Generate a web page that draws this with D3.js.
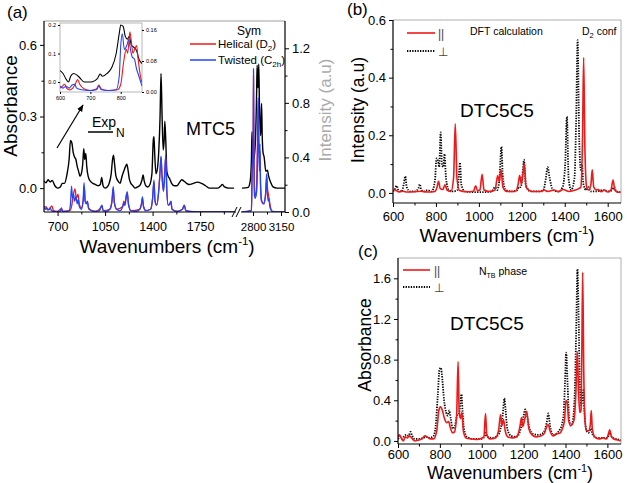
<!DOCTYPE html>
<html><head><meta charset="utf-8">
<script src="https://cdn.jsdelivr.net/npm/d3@7"></script>
<style>body{margin:0;background:#fff}svg{display:block}text{font-family:"Liberation Sans",Arial,sans-serif}</style>
</head><body><svg id="c" width="627" height="483"></svg>
<script>
// ---------- DATA ----------
// Panel (a) – experimental (left axis, absorbance), [wavenumber, value]
const aExpLow = [[600,0.03],[615,0.022],[630,0.035],[645,0.026],[660,0.032],[680,0.01],[700,0.0],[720,0.005],[735,0.02],[750,0.02],[770,0.06],[785,0.12],[795,0.2],[805,0.19],[815,0.15],[825,0.13],[835,0.12],[845,0.09],[855,0.07],[865,0.05],[875,0.06],[885,0.1],[893,0.165],[900,0.12],[908,0.145],[915,0.09],[925,0.05],[940,0.03],[960,0.02],[980,0.015],[1000,0.01],[1015,0.015],[1025,0.045],[1035,0.01],[1050,0.0],[1065,0.005],[1080,0.02],[1095,0.06],[1105,0.12],[1112,0.138],[1120,0.1],[1130,0.05],[1145,0.03],[1160,0.02],[1175,0.05],[1190,0.075],[1200,0.09],[1210,0.1],[1218,0.08],[1228,0.04],[1240,0.02],[1255,0.01],[1270,0.0],[1290,0.005],[1310,0.015],[1322,0.035],[1330,0.055],[1338,0.03],[1350,0.01],[1365,0.005],[1380,0.015],[1395,0.06],[1405,0.2],[1410,0.215],[1415,0.15],[1425,0.06],[1435,0.08],[1445,0.15],[1455,0.3],[1462,0.48],[1470,0.3],[1478,0.16],[1485,0.2],[1490,0.28],[1497,0.2],[1505,0.07],[1515,0.05],[1525,0.04],[1540,0.02],[1560,0.01],[1580,0.01],[1600,0.025],[1615,0.035],[1630,0.03],[1650,0.02],[1670,0.015],[1700,0.02],[1730,0.025],[1760,0.02],[1790,0.01],[1820,0.0],[1850,0.0],[1880,0.0],[1900,0.008],[1915,0.015],[1930,0.005],[1960,0.0],[2000,0.0]];
const aExpHigh = [[2662,0.0],[2740,0.003],[2765,0.03],[2780,0.12],[2787,0.236],[2795,0.14],[2810,0.12],[2830,0.2],[2845,0.4],[2851,0.515],[2862,0.42],[2872,0.52],[2880,0.35],[2895,0.22],[2902,0.3],[2907,0.355],[2915,0.22],[2925,0.15],[2939,0.13],[2960,0.07],[2980,0.075],[2995,0.05],[3019,0.026],[3050,0.005],[3100,0.0],[3200,0.0]];
// Panel (a) – calculated (right axis, intensity)
const aHelLow = [[600,0.03],[615,0.04],[625,0.015],[640,0.02],[658,0.045],[670,0.01],[700,0.005],[728,0.025],[740,0.005],[790,0.01],[805,0.05],[815,0.12],[828,0.17],[838,0.1],[850,0.13],[860,0.06],[875,0.03],[890,0.1],[897,0.19],[905,0.07],[920,0.07],[930,0.02],[980,0.005],[1020,0.035],[1027,0.045],[1035,0.01],[1085,0.02],[1100,0.07],[1110,0.17],[1118,0.07],[1135,0.02],[1180,0.04],[1188,0.08],[1195,0.05],[1205,0.12],[1213,0.14],[1222,0.06],[1240,0.01],[1305,0.02],[1318,0.06],[1325,0.1],[1333,0.04],[1350,0.01],[1385,0.02],[1400,0.1],[1410,0.22],[1418,0.08],[1430,0.05],[1445,0.16],[1455,0.3],[1462,0.4],[1470,0.26],[1480,0.16],[1488,0.27],[1497,0.4],[1505,0.15],[1515,0.05],[1527,0.06],[1535,0.075],[1543,0.02],[1580,0.005],[1620,0.02],[1633,0.05],[1645,0.01],[1700,0.002],[2000,0.0]];
const aTwiLow = [[600,0.04],[610,0.02],[620,0.03],[635,0.015],[645,0.03],[655,0.01],[670,0.005],[700,0.003],[720,0.005],[728,0.03],[735,0.005],[760,0.005],[785,0.01],[795,0.06],[803,0.19],[810,0.1],[818,0.13],[825,0.08],[835,0.11],[845,0.06],[852,0.09],[860,0.04],[875,0.02],[888,0.08],[895,0.215],[902,0.08],[912,0.06],[920,0.08],[928,0.03],[950,0.01],[980,0.005],[1010,0.01],[1020,0.04],[1027,0.05],[1035,0.01],[1060,0.005],[1085,0.02],[1100,0.08],[1110,0.185],[1118,0.07],[1135,0.02],[1160,0.01],[1180,0.04],[1188,0.07],[1195,0.05],[1205,0.1],[1213,0.15],[1222,0.06],[1240,0.01],[1280,0.005],[1305,0.02],[1318,0.06],[1325,0.11],[1333,0.04],[1350,0.01],[1385,0.02],[1400,0.1],[1410,0.235],[1418,0.08],[1430,0.05],[1445,0.15],[1455,0.3],[1462,0.41],[1470,0.25],[1480,0.15],[1488,0.25],[1497,0.42],[1505,0.15],[1515,0.05],[1527,0.06],[1535,0.08],[1543,0.02],[1580,0.005],[1620,0.02],[1633,0.05],[1645,0.01],[1700,0.002],[1800,0.0],[2000,0.0]];
const aHelHigh = [[2662,0.0],[2780,0.01],[2790,0.3],[2797,0.35],[2802,0.5],[2806,1.0],[2811,0.5],[2820,0.15],[2835,0.12],[2845,0.2],[2858,0.6],[2866,0.82],[2872,0.55],[2880,0.45],[2887,0.45],[2895,0.2],[2910,0.08],[2940,0.06],[2960,0.15],[2971,0.26],[2980,0.18],[2995,0.12],[3005,0.08],[3040,0.005],[3200,0.0]];
const aTwiHigh = [[2662,0.0],[2780,0.01],[2790,0.35],[2797,0.4],[2802,0.6],[2806,1.05],[2811,0.4],[2818,0.12],[2827,0.1],[2845,0.15],[2855,0.35],[2862,0.7],[2866,0.84],[2872,0.5],[2880,0.3],[2887,0.5],[2893,0.2],[2905,0.08],[2930,0.06],[2955,0.12],[2965,0.22],[2971,0.28],[2978,0.15],[2990,0.08],[2999,0.1],[3010,0.04],[3040,0.005],[3200,0.0]];
// Inset (600–870 cm-1)
const insExp = [[600,0.04],[610,0.03],[620,0.01],[628,0.0],[635,0.02],[645,0.03],[655,0.025],[665,0.015],[680,0.0],[700,0.0],[715,0.005],[725,0.015],[732,0.028],[740,0.02],[755,0.03],[770,0.05],[785,0.1],[795,0.17],[800,0.2],[808,0.195],[815,0.16],[822,0.15],[828,0.16],[835,0.13],[845,0.12],[852,0.11],[860,0.08],[870,0.065]];
const insHel = [[600,0.01],[608,0.015],[615,0.02],[622,0.01],[632,0.005],[642,0.01],[650,0.02],[658,0.032],[665,0.02],[680,0.008],[700,0.004],[720,0.008],[728,0.018],[736,0.008],[760,0.004],[790,0.006],[800,0.02],[810,0.08],[818,0.11],[823,0.1],[830,0.155],[835,0.13],[840,0.1],[846,0.11],[852,0.12],[858,0.08],[865,0.04],[870,0.025]];
const insTwi = [[600,0.015],[610,0.01],[620,0.015],[630,0.01],[640,0.018],[648,0.02],[655,0.01],[670,0.006],[700,0.004],[720,0.006],[728,0.015],[736,0.006],[760,0.004],[785,0.006],[795,0.04],[800,0.12],[805,0.15],[812,0.11],[820,0.12],[826,0.135],[832,0.11],[838,0.09],[845,0.085],[852,0.06],[860,0.04],[870,0.015]];
// Panel (b) – DFT
const bPar = [[600,0.005],[608,0.012],[615,0.008],[630,0.003],[645,0.006],[660,0.003],[700,0.004],[730,0.006],[760,0.003],[795,0.005],[805,0.02],[812,0.04],[820,0.015],[832,0.012],[842,0.028],[852,0.01],[870,0.005],[882,0.05],[890,0.24],[898,0.05],[910,0.008],[940,0.004],[975,0.006],[985,0.025],[993,0.008],[1005,0.01],[1015,0.065],[1024,0.01],[1050,0.005],[1075,0.01],[1088,0.06],[1095,0.04],[1103,0.08],[1112,0.02],[1130,0.005],[1170,0.005],[1183,0.03],[1190,0.06],[1198,0.03],[1206,0.07],[1212,0.1],[1220,0.02],[1250,0.005],[1290,0.005],[1305,0.01],[1320,0.005],[1350,0.01],[1370,0.004],[1392,0.012],[1420,0.005],[1450,0.01],[1465,0.015],[1475,0.02],[1483,0.2],[1488,0.47],[1494,0.15],[1502,0.02],[1512,0.01],[1522,0.03],[1528,0.08],[1535,0.02],[1548,0.01],[1555,0.012],[1570,0.004],[1585,0.01],[1600,0.003],[1615,0.01],[1625,0.045],[1633,0.01],[1645,0.003],[1660,0.002]];
const bPerp = [[600,0.005],[610,0.015],[617,0.025],[625,0.01],[640,0.005],[650,0.03],[657,0.058],[664,0.02],[680,0.005],[700,0.005],[718,0.015],[725,0.03],[732,0.01],[745,0.005],[760,0.01],[780,0.005],[795,0.04],[803,0.12],[810,0.11],[815,0.09],[822,0.21],[828,0.1],[834,0.09],[840,0.135],[847,0.05],[860,0.01],[880,0.005],[900,0.01],[907,0.06],[912,0.105],[918,0.03],[935,0.005],[980,0.003],[1030,0.003],[1060,0.005],[1075,0.02],[1085,0.01],[1095,0.04],[1105,0.16],[1112,0.05],[1125,0.01],[1150,0.005],[1180,0.01],[1186,0.02],[1195,0.02],[1203,0.06],[1210,0.115],[1218,0.03],[1240,0.005],[1280,0.005],[1300,0.01],[1312,0.05],[1320,0.09],[1330,0.05],[1345,0.01],[1370,0.005],[1390,0.02],[1402,0.1],[1410,0.265],[1418,0.05],[1430,0.01],[1445,0.05],[1453,0.25],[1460,0.53],[1467,0.2],[1475,0.08],[1480,0.1],[1487,0.03],[1500,0.01],[1510,0.02],[1520,0.005],[1545,0.005],[1580,0.01],[1600,0.005],[1620,0.01],[1630,0.02],[1640,0.005],[1660,0.003]];
// Panel (c) – NTB phase
const cPar = [[600,0.04],[607,0.06],[615,0.03],[625,0.0],[635,0.04],[645,0.03],[655,0.05],[665,0.03],[680,0.0],[700,0.01],[715,0.02],[728,0.05],[740,0.04],[755,0.02],[770,0.02],[785,0.1],[795,0.3],[803,0.335],[812,0.3],[822,0.22],[832,0.18],[842,0.19],[850,0.13],[860,0.08],[870,0.09],[880,0.25],[887,0.78],[892,0.3],[898,0.22],[905,0.28],[912,0.1],[925,0.03],[950,0.02],[970,0.015],[990,0.02],[1010,0.04],[1018,0.27],[1024,0.06],[1040,0.02],[1065,0.03],[1080,0.1],[1090,0.26],[1096,0.15],[1104,0.21],[1112,0.1],[1125,0.04],[1150,0.03],[1170,0.05],[1183,0.15],[1190,0.23],[1196,0.14],[1206,0.22],[1215,0.29],[1225,0.12],[1240,0.06],[1260,0.04],[1285,0.05],[1300,0.08],[1312,0.15],[1318,0.16],[1326,0.1],[1340,0.05],[1360,0.07],[1375,0.08],[1385,0.12],[1395,0.2],[1402,0.4],[1408,0.38],[1415,0.2],[1425,0.15],[1440,0.2],[1450,0.5],[1456,0.88],[1462,0.5],[1468,0.28],[1474,0.3],[1478,0.9],[1482,1.66],[1487,0.7],[1493,0.2],[1500,0.1],[1510,0.1],[1518,0.15],[1523,0.3],[1528,0.12],[1540,0.04],[1560,0.02],[1580,0.03],[1595,0.02],[1605,0.07],[1611,0.11],[1618,0.05],[1630,0.02],[1650,0.01],[1665,0.0]];
const cPerp = [[600,0.02],[610,0.04],[620,0.02],[630,0.05],[640,0.06],[650,0.05],[660,0.09],[668,0.05],[680,0.02],[700,0.02],[720,0.03],[735,0.04],[750,0.03],[770,0.05],[780,0.15],[790,0.45],[798,0.7],[805,0.72],[812,0.6],[820,0.4],[830,0.28],[838,0.25],[845,0.3],[852,0.22],[862,0.12],[872,0.15],[882,0.25],[890,0.26],[897,0.35],[903,0.46],[908,0.3],[915,0.12],[930,0.04],[960,0.02],[1000,0.02],[1015,0.05],[1020,0.08],[1026,0.04],[1050,0.03],[1075,0.05],[1090,0.12],[1100,0.25],[1108,0.42],[1114,0.3],[1122,0.12],[1140,0.05],[1165,0.04],[1180,0.08],[1192,0.17],[1200,0.25],[1208,0.31],[1216,0.25],[1228,0.12],[1245,0.07],[1270,0.06],[1295,0.08],[1310,0.18],[1318,0.27],[1326,0.15],[1340,0.06],[1360,0.08],[1375,0.12],[1385,0.18],[1392,0.3],[1398,0.6],[1403,0.87],[1410,0.55],[1418,0.2],[1428,0.15],[1438,0.25],[1446,0.6],[1452,1.2],[1457,1.69],[1462,1.3],[1468,0.6],[1475,0.35],[1480,0.4],[1485,0.5],[1490,0.3],[1500,0.1],[1510,0.08],[1520,0.12],[1530,0.06],[1550,0.03],[1575,0.03],[1600,0.03],[1612,0.08],[1620,0.04],[1640,0.02],[1665,0.01]];
// Tick values
const aXTicksLow = [700,1050,1400,1750], aXMinorLow = [875,1225,1575,1925];
const aXTicksHigh = [2800,3150], aXMinorHigh = [2975];
const aYLeftTicks = [0,0.3,0.6], aYLeftMinor = [0.15,0.45];
const aYRightTicks = [0,0.4,0.8,1.2], aYRightMinor = [0.2,0.6,1.0];
const bcXTicks = [600,800,1000,1200,1400,1600], bcXMinor = [700,900,1100,1300,1500];
const bYTicks = [0,0.2,0.4,0.6], bYMinor = [0.1,0.3,0.5];
const cYTicks = [0,0.4,0.8,1.2,1.6], cYMinor = [0.2,0.6,1.0,1.4];
const insXTicks = [600,700,800], insYLeftTicks=[0,0.1,0.2], insYRightTicks=[0,0.08,0.16];

// ---------- DRAW ----------
const svg = d3.select("#c");
const RED = "#f01818", BLUE = "#2244ff", BLK = "#000";
const fmt1 = d3.format(".1f");
const line = (x,y)=>d3.line().x(d=>x(d[0])).y(d=>y(d[1])).curve(d3.curveMonotoneX);
let clipId = 0;
function clip(x0,y0,w,h){const id="cl"+(clipId++);svg.append("clipPath").attr("id",id).append("rect").attr("x",x0).attr("y",y0).attr("width",w).attr("height",h);return "url(#"+id+")";}
function ticks(g, axis, vals, size, fmtF, fs, pad){
  const a = axis.tickValues(vals).tickSize(size).tickPadding(pad==null?3:pad).tickFormat(fmtF||"");
  const sel = g.call(a); sel.select(".domain").remove();
  sel.selectAll("text").attr("font-size",fs||13).attr("font-family","Liberation Sans, Arial, sans-serif").attr("fill","#000");
  sel.selectAll("line").attr("stroke","#000");
  return sel;
}
function path(data,x,y,color,w,dash,cp){
  const p = svg.append("path").attr("d",line(x,y)(data)).attr("fill","none").attr("stroke",color).attr("stroke-width",w).attr("stroke-linejoin","round");
  if(dash) p.attr("stroke-dasharray",dash);
  if(cp) p.attr("clip-path",cp);
  return p;
}
function hline(x1,x2,y,c,w){svg.append("line").attr("x1",x1).attr("x2",x2).attr("y1",y).attr("y2",y).attr("stroke",c).attr("stroke-width",w);}
function vline(x,y1,y2,c,w){svg.append("line").attr("x1",x).attr("x2",x).attr("y1",y1).attr("y2",y2).attr("stroke",c).attr("stroke-width",w);}
function wnTitle(x,y,fs){
  const t = svg.append("text").attr("x",x).attr("y",y).attr("text-anchor","middle").attr("font-size",fs);
  t.append("tspan").text("Wavenumbers (cm"); t.append("tspan").attr("font-size",fs*0.6).attr("dy",-fs*0.4).text("-1"); t.append("tspan").attr("dy",fs*0.4).text(")");
}

// ===== Panel (a) =====
const aL=44, aR=285, aT=21, aB=212, brk1=235, brk2=242;
const xa1 = d3.scaleLinear().domain([600,2007]).range([aL,brk1]);
const xa2 = d3.scaleLinear().domain([2662,3200]).range([brk2,aR]);
const yaL = d3.scaleLinear().domain([-0.1,0.7]).range([aB,aT]);
const yaR = d3.scaleLinear().domain([0,1.4]).range([aB,aT]);
const cpa1 = clip(aL,aT,brk1-aL,aB-aT), cpa2 = clip(brk2,aT,aR-brk2,aB-aT);
path(aExpLow,xa1,yaL,BLK,1.4,null,cpa1);
path(aHelLow,xa1,yaR,RED,1.3,null,cpa1);
path(aTwiLow,xa1,yaR,BLUE,1.3,null,cpa1);
path(aExpHigh,xa2,yaL,BLK,1.4,null,cpa2);
path(aHelHigh,xa2,yaR,RED,1.3,null,cpa2);
path(aTwiHigh,xa2,yaR,BLUE,1.3,null,cpa2);
hline(aL,aR,aT,"#888",0.8);
vline(aL,aT,aB,"#000",1.2); vline(aR,aT,aB,"#000",1.2);
hline(aL,brk1+1,aB,"#000",1.2); hline(brk2-1,aR,aB,"#000",1.2);
[brk1-1,brk1+3].forEach(xx=>svg.append("line").attr("x1",xx-2).attr("x2",xx+3).attr("y1",aB+5).attr("y2",aB-5).attr("stroke","#000").attr("stroke-width",1));
ticks(svg.append("g").attr("transform",`translate(0,${aB})`), d3.axisBottom(xa1), aXTicksLow, 4, d=>d, 12.5).selectAll("text").attr("dy","0.95em");
ticks(svg.append("g").attr("transform",`translate(0,${aB})`), d3.axisBottom(xa1), aXMinorLow, 2.5);
ticks(svg.append("g").attr("transform",`translate(0,${aB})`), d3.axisBottom(xa2), aXTicksHigh, 4, d=>d, 11.5).selectAll("text").attr("dy","1.0em");
ticks(svg.append("g").attr("transform",`translate(0,${aB})`), d3.axisBottom(xa2), aXMinorHigh, 2.5);
ticks(svg.append("g").attr("transform",`translate(${aL},0)`), d3.axisLeft(yaL), aYLeftTicks, 4, fmt1, 13);
ticks(svg.append("g").attr("transform",`translate(${aL},0)`), d3.axisLeft(yaL), aYLeftMinor, 2.5);
ticks(svg.append("g").attr("transform",`translate(${aR},0)`), d3.axisRight(yaR), aYRightTicks, 4, fmt1, 13);
ticks(svg.append("g").attr("transform",`translate(${aR},0)`), d3.axisRight(yaR), aYRightMinor, 2.5);
svg.append("text").attr("x",7).attr("y",18).attr("font-size",17).text("(a)");
svg.append("text").attr("transform","translate(17,106) rotate(-90)").attr("text-anchor","middle").attr("font-size",19).text("Absorbance");
svg.append("text").attr("transform","translate(331,110) rotate(-90)").attr("text-anchor","middle").attr("font-size",17).attr("fill","#aaa").text("Intensity (a.u)");
wnTitle(167,253,19);
svg.append("text").attr("x",186).attr("y",135).attr("font-size",18).text("MTC5");
svg.append("text").attr("x",249).attr("y",35).attr("text-anchor","middle").attr("font-size",12).text("Sym");
hline(190,216,44,RED,1.5);
let lt = svg.append("text").attr("x",218).attr("y",48).attr("font-size",11.5);
lt.append("tspan").text("Helical (D"); lt.append("tspan").attr("font-size",8).attr("dy",3).text("2"); lt.append("tspan").attr("dy",-3).text(")");
hline(190,216,60,BLUE,1.5);
lt = svg.append("text").attr("x",218).attr("y",64).attr("font-size",11.5);
lt.append("tspan").text("Twisted (C"); lt.append("tspan").attr("font-size",8).attr("dy",3).text("2h"); lt.append("tspan").attr("dy",-3).text(")");
svg.append("text").attr("x",92).attr("y",127).attr("font-size",14).text("Exp");
hline(88,113,132,BLK,1.5);
svg.append("text").attr("x",116).attr("y",137).attr("font-size",12).text("N");
svg.append("defs").append("marker").attr("id","ah").attr("viewBox","0 0 10 10").attr("refX",9).attr("refY",5).attr("markerWidth",6).attr("markerHeight",6).attr("orient","auto").append("path").attr("d","M0,1L10,5L0,9z").attr("fill","#000");
svg.append("line").attr("x1",57).attr("y1",148).attr("x2",83).attr("y2",105).attr("stroke","#000").attr("stroke-width",1.2).attr("marker-end","url(#ah)");

// ----- inset -----
const iL=60,iR=142,iT=23,iB=92;
svg.append("rect").attr("x",iL).attr("y",iT).attr("width",iR-iL).attr("height",iB-iT).attr("fill","#fff").attr("stroke","#999").attr("stroke-width",0.7);
const xi = d3.scaleLinear().domain([600,870]).range([iL,iR]);
const yiL = d3.scaleLinear().domain([-0.035,0.207]).range([iB,iT]);
const yiR = d3.scaleLinear().domain([0,0.178]).range([iB,iT]);
const cpi = clip(iL,iT,iR-iL,iB-iT);
path(insExp,xi,yiL,BLK,1.1,null,cpi);
path(insHel,xi,yiR,RED,1.1,null,cpi);
path(insTwi,xi,yiR,BLUE,1.1,null,cpi);
ticks(svg.append("g").attr("transform",`translate(0,${iB})`), d3.axisBottom(xi), insXTicks, 2, d=>d, 5.5, 2);
ticks(svg.append("g").attr("transform",`translate(${iL},0)`), d3.axisLeft(yiL), insYLeftTicks, 2, fmt1, 5.5, 2);
ticks(svg.append("g").attr("transform",`translate(${iR},0)`), d3.axisRight(yiR), insYRightTicks, 2, d3.format(".2f"), 5.5, 2);

// ===== Panel (b) =====
const bL=393,bR=621,bT=20,bB=203;
const xb = d3.scaleLinear().domain([600,1662]).range([bL,bR]);
const yb = d3.scaleLinear().domain([-0.035,0.6]).range([bB,bT]);
const cpb = clip(bL,bT,bR-bL,bB-bT);
path(bPerp,xb,yb,BLK,1.8,"1.3,1.3",cpb);
path(bPar,xb,yb,RED,1.6,null,cpb);
hline(bL,bR,bT,"#999",0.8); vline(bR,bT,bB,"#999",0.8);
vline(bL,bT,bB,"#000",1.2); hline(bL,bR,bB,"#000",1.2);
ticks(svg.append("g").attr("transform",`translate(0,${bB})`), d3.axisBottom(xb), bcXTicks, 4, d=>d, 13).selectAll("text").attr("dy","0.85em");
ticks(svg.append("g").attr("transform",`translate(0,${bB})`), d3.axisBottom(xb), bcXMinor, 2.5);
ticks(svg.append("g").attr("transform",`translate(${bL},0)`), d3.axisLeft(yb), bYTicks, 4, fmt1, 13);
ticks(svg.append("g").attr("transform",`translate(${bL},0)`), d3.axisLeft(yb), bYMinor, 2.5);
svg.append("text").attr("x",347).attr("y",15).attr("font-size",17).text("(b)");
svg.append("text").attr("transform","translate(364,110) rotate(-90)").attr("text-anchor","middle").attr("font-size",17.5).text("Intensity (a.u)");
wnTitle(507,242,19);
svg.append("text").attr("x",470).attr("y",35).attr("font-size",10.5).text("DFT calculation");
lt = svg.append("text").attr("x",582).attr("y",35).attr("font-size",10.5);
lt.append("tspan").text("D"); lt.append("tspan").attr("font-size",7.5).attr("dy",3).text("2"); lt.append("tspan").attr("dy",-3).text(" conf");
svg.append("text").attr("x",460).attr("y",117).attr("font-size",19).text("DTC5C5");
hline(407,435,33,RED,1.6);
svg.append("text").attr("x",438).attr("y",38).attr("font-size",12).attr("fill","#444").text("||");
svg.append("line").attr("x1",407).attr("x2",435).attr("y1",51).attr("y2",51).attr("stroke",BLK).attr("stroke-width",1.8).attr("stroke-dasharray","1.3,1.3");
svg.append("text").attr("x",438).attr("y",56).attr("font-size",12).attr("fill","#444").text("⊥");

// ===== Panel (c) =====
const cL=398,cR=621,cT=258,cB=444;
const xc = d3.scaleLinear().domain([600,1665]).range([cL,cR]);
const yc = d3.scaleLinear().domain([-0.03,1.8]).range([cB,cT]);
const cpc = clip(cL,cT,cR-cL,cB-cT);
path(cPerp,xc,yc,BLK,1.8,"1.3,1.3",cpc);
path(cPar,xc,yc,RED,1.6,null,cpc);
hline(cL,cR,cT,"#999",0.8); vline(cR,cT,cB,"#999",0.8);
vline(cL,cT,cB,"#000",1.2); hline(cL,cR,cB,"#000",1.2);
ticks(svg.append("g").attr("transform",`translate(0,${cB})`), d3.axisBottom(xc), bcXTicks, 4, d=>d, 13, 2);
ticks(svg.append("g").attr("transform",`translate(0,${cB})`), d3.axisBottom(xc), bcXMinor, 2.5);
ticks(svg.append("g").attr("transform",`translate(${cL},0)`), d3.axisLeft(yc), cYTicks, 4, fmt1, 13);
ticks(svg.append("g").attr("transform",`translate(${cL},0)`), d3.axisLeft(yc), cYMinor, 2.5);
svg.append("text").attr("x",358).attr("y",257).attr("font-size",17).text("(c)");
svg.append("text").attr("transform","translate(371,345) rotate(-90)").attr("text-anchor","middle").attr("font-size",17.5).text("Absorbance");
wnTitle(510,479,18);
lt = svg.append("text").attr("x",479).attr("y",275).attr("font-size",10.5);
lt.append("tspan").text("N"); lt.append("tspan").attr("font-size",7).attr("dy",3).text("TB"); lt.append("tspan").attr("dy",-3).text(" phase");
svg.append("text").attr("x",450).attr("y",330).attr("font-size",19).text("DTC5C5");
hline(403,430,270,RED,1.6);
svg.append("text").attr("x",434).attr("y",275).attr("font-size",12).attr("fill","#444").text("||");
svg.append("line").attr("x1",403).attr("x2",430).attr("y1",287).attr("y2",287).attr("stroke",BLK).attr("stroke-width",1.8).attr("stroke-dasharray","1.3,1.3");
svg.append("text").attr("x",434).attr("y",292).attr("font-size",12).attr("fill","#444").text("⊥");
</script></body></html>
